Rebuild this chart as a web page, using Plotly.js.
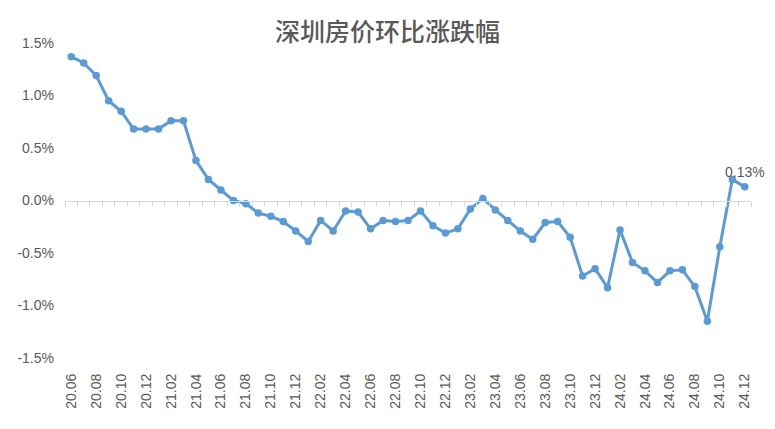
<!DOCTYPE html>
<html>
<head>
<meta charset="utf-8">
<script src="https://cdn.plot.ly/plotly-3.0.1.min.js"></script>
<style>html,body{margin:0;padding:0;background:#fff;}#chart{width:775px;height:429px;}</style>
</head>
<body>
<div id="chart"></div>
<script>
const months = ["20.06","20.07","20.08","20.09","20.10","20.11","20.12",
"21.01","21.02","21.03","21.04","21.05","21.06","21.07","21.08","21.09","21.10","21.11","21.12",
"22.01","22.02","22.03","22.04","22.05","22.06","22.07","22.08","22.09","22.10","22.11","22.12",
"23.01","23.02","23.03","23.04","23.05","23.06","23.07","23.08","23.09","23.10","23.11","23.12",
"24.01","24.02","24.03","24.04","24.05","24.06","24.07","24.08","24.09","24.10","24.11","24.12"];
const changePct = [1.37,1.31,1.19,0.95,0.85,0.68,0.68,
0.68,0.76,0.76,0.38,0.20,0.10,0.00,-0.03,-0.12,-0.15,-0.20,-0.29,
-0.39,-0.19,-0.29,-0.10,-0.11,-0.27,-0.19,-0.20,-0.19,-0.10,-0.24,-0.31,
-0.27,-0.08,0.02,-0.09,-0.19,-0.29,-0.37,-0.21,-0.20,-0.35,-0.72,-0.65,
-0.83,-0.28,-0.59,-0.67,-0.78,-0.67,-0.66,-0.82,-1.15,-0.44,0.20,0.13];
const yTicks = [-1.5,-1.0,-0.5,0.0,0.5,1.0,1.5];
const yTickText = ["-1.5%","-1.0%","-0.5%","0.0%","0.5%","1.0%","1.5%"];
const labelIndex = 54;
const labelText = "0.13%";
const titleText = "深圳房价环比涨跌幅";

const idx = months.map((m,i)=>i);
const tickIdx = idx.filter(i=>i%2===0);
const tickLab = tickIdx.map(i=>months[i]);
const boundaries = months.map((m,i)=>i-0.5).concat([months.length-0.5]);

const lineColor = "#5B9BD5";
const txtColor = "#595959";
const font = "Liberation Sans, Arial, sans-serif";

const traces = [
  {x: idx, y: changePct, type:"scatter", mode:"lines+markers",
   line:{color:lineColor, width:3}, marker:{color:lineColor, size:7.5},
   hoverinfo:"skip"},
  {x: idx, y: changePct, type:"scatter", mode:"lines", xaxis:"x2",
   line:{color:"rgba(0,0,0,0)", width:0}, hoverinfo:"skip", showlegend:false}
];

const layout = {
  width:775, height:429,
  margin:{l:65, r:24, t:43, b:71},
  paper_bgcolor:"#fff", plot_bgcolor:"#fff",
  showlegend:false,
  font:{family:font, color:txtColor, size:14},
  title:{text:titleText, x:0.5, xanchor:"center", y:0.925, yanchor:"middle",
    font:{family:"Noto Sans CJK SC, sans-serif", size:25, color:txtColor, weight:500}},
  xaxis:{range:[-0.5, months.length-0.5], tickmode:"array", tickvals:tickIdx, ticktext:tickLab,
    tickangle:-90, showgrid:false, zeroline:false, showline:false, ticks:"",
    ticklabelstandoff:12, tickfont:{size:14, color:txtColor, family:font}},
  xaxis2:{overlaying:"x", anchor:"free", position:0.5, side:"bottom",
    range:[-0.5, months.length-0.5], tickmode:"array", tickvals:boundaries,
    showticklabels:false, ticks:"outside", ticklen:5, tickwidth:1, tickcolor:"#D9D9D9",
    showline:true, linecolor:"#D9D9D9", linewidth:1, showgrid:false, zeroline:false},
  yaxis:{range:[-1.5,1.5], tickmode:"array", tickvals:yTicks, ticktext:yTickText,
    showgrid:false, zeroline:false, showline:false, ticks:"", ticklabelstandoff:10,
    tickfont:{size:14, color:txtColor, family:font}},
  annotations:[{x:labelIndex, y:changePct[labelIndex], text:labelText, showarrow:false,
    xanchor:"center", yanchor:"bottom", yshift:5, font:{size:14, color:txtColor, family:font}}]
};

Plotly.newPlot("chart", traces, layout, {displayModeBar:false, staticPlot:true});
</script>
</body>
</html>
